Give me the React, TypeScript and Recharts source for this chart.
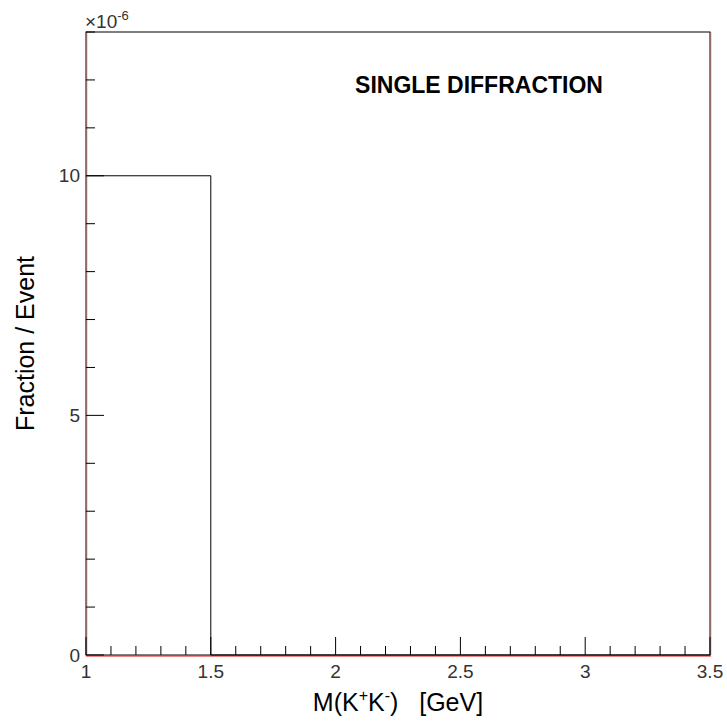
import { ComposedChart, Line, XAxis, YAxis, ReferenceArea } from "recharts";

// histogram: bin edges in GeV, contents in units of 1e-6
const binEdges = [1, 1.5, 2, 2.5, 3, 3.5];
const fractionPerEvent = [10, 0, 0, 0, 0];

const xTicks = [
  1, 1.1, 1.2, 1.3, 1.4, 1.5, 1.6, 1.7, 1.8, 1.9, 2, 2.1, 2.2, 2.3, 2.4, 2.5,
  2.6, 2.7, 2.8, 2.9, 3, 3.1, 3.2, 3.3, 3.4, 3.5,
];
const xLabels = [1, 1.5, 2, 2.5, 3, 3.5];
const yTicks = [0, 1, 2, 3, 4, 5, 6, 7, 8, 9, 10, 11, 12, 13];
const yLabels = [0, 5, 10];

const data = binEdges.map((x, i) => ({
  x,
  y: fractionPerEvent[Math.min(i, fractionPerEvent.length - 1)],
}));

const FONT = '"Liberation Sans", Arial, Helvetica, sans-serif';

const XTick = ({ x, y, payload }: any) => {
  const major = xLabels.includes(payload.value);
  return (
    <g>
      <line x1={x} x2={x} y1={y} y2={y - (major ? 18 : 9)} stroke="#000" />
      {major && (
        <text
          x={x}
          y={y + 16}
          textAnchor="middle"
          dominantBaseline="central"
          fontSize={19}
          fill="#333"
          fontFamily={FONT}
        >
          {payload.value}
        </text>
      )}
    </g>
  );
};

const YTick = ({ x, y, payload }: any) => {
  const major = yLabels.includes(payload.value);
  return (
    <g>
      <line x1={x} x2={x + (major ? 18 : 9)} y1={y} y2={y} stroke="#000" />
      {major && (
        <text
          x={x - 6}
          y={y}
          textAnchor="end"
          dominantBaseline="central"
          fontSize={19}
          fill="#333"
          fontFamily={FONT}
        >
          {payload.value}
        </text>
      )}
    </g>
  );
};

// ROOT-style frame: black box, faint red shadow on the sides, red along the bottom
const Frame = ({ x, y, width, height }: any) => (
  <g>
    <rect x={x} y={y} width={width} height={height} stroke="#000" fill="none" />
    <path
      d={`M${x + 1},${y} L${x + 1},${y + height} M${x + width + 1},${y} L${x + width + 1},${y + height}`}
      stroke="#e01010"
      strokeOpacity={0.35}
      fill="none"
    />
    <line
      x1={x}
      x2={x + width + 1}
      y1={y + height + 1}
      y2={y + height + 1}
      stroke="#e01010"
    />
  </g>
);

export default function App() {
  return (
    <div style={{ position: "absolute", left: 0, top: 0, background: "#fff" }}>
      <ComposedChart
        width={727}
        height={724}
        data={data}
        margin={{ top: 32, right: 17, bottom: 0, left: 0 }}
      >
        <ReferenceArea
          x1={1}
          x2={3.5}
          y1={0}
          y2={13}
          shape={<Frame />}
          ifOverflow="visible"
        />
        <XAxis
          dataKey="x"
          type="number"
          domain={[1, 3.5]}
          ticks={xTicks}
          interval={0}
          height={69}
          tickSize={0}
          tickMargin={0}
          tickLine={false}
          axisLine={false}
          tick={<XTick />}
          label={{
            position: "insideBottom",
            content: ({ viewBox }: any) => (
              <text
                x={viewBox.x + viewBox.width / 2}
                y={viewBox.y + 56}
                textAnchor="middle"
                fontSize={25}
                fill="#000"
                fontFamily={FONT}
                style={{ whiteSpace: "pre" }}
              >
                M(K
                <tspan fontSize={16} dy={-10}>+</tspan>
                <tspan dy={10}>K</tspan>
                <tspan fontSize={16} dy={-10}>-</tspan>
                <tspan dy={10}>{")\u00a0\u00a0\u00a0[GeV]"}</tspan>
              </text>
            ),
          }}
        />
        <YAxis
          type="number"
          domain={[0, 13]}
          ticks={yTicks}
          interval={0}
          width={86}
          tickSize={0}
          tickMargin={0}
          tickLine={false}
          axisLine={false}
          tick={<YTick />}
          label={{
            content: ({ viewBox }: any) => {
              const cy = viewBox.y + viewBox.height / 2;
              return (
                <text
                  x={25}
                  y={cy}
                  transform={`rotate(-90 25 ${cy})`}
                  textAnchor="middle"
                  dominantBaseline="central"
                  fontSize={25}
                  fill="#000"
                  fontFamily={FONT}
                >
                  Fraction / Event
                </text>
              );
            },
          }}
        />
        <Line
          dataKey="y"
          type="stepAfter"
          stroke="#000"
          strokeWidth={1}
          dot={false}
          activeDot={false}
          isAnimationActive={false}
        />
        <text x={85} y={28} fontSize={19} fill="#333" fontFamily={FONT}>
          ×10
          <tspan fontSize={13} dy={-8}>-6</tspan>
        </text>
        <text
          x={479}
          y={93}
          textAnchor="middle"
          fontSize={23}
          fontWeight="bold"
          fill="#000"
          fontFamily={FONT}
        >
          SINGLE DIFFRACTION
        </text>
      </ComposedChart>
    </div>
  );
}
